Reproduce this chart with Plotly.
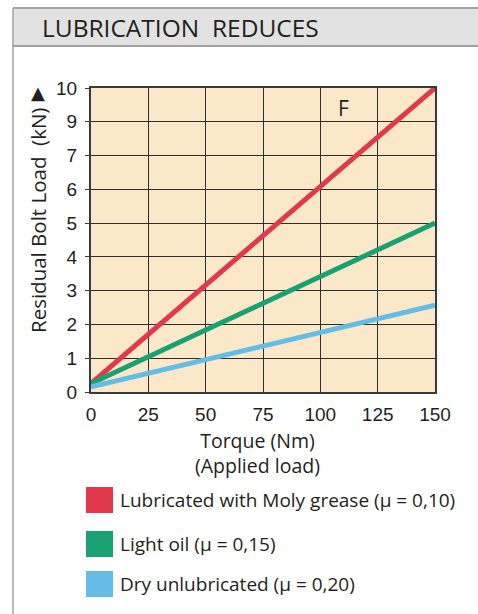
import plotly.graph_objects as go

# Torque (Nm) at the two ends of each line
torque = [0, 150]

# Residual bolt load, in axis units (gridlines are evenly spaced, see tick labels)
series_names = [
    "Lubricated with Moly grease (μ = 0,10)",
    "Light oil (μ = 0,15)",
    "Dry unlubricated (μ = 0,20)",
]
moly_grease = [0.25, 9.0]
light_oil = [0.25, 5.0]
dry = [0.15, 2.57]
series_values = [moly_grease, light_oil, dry]
series_colors = ["#E1384B", "#1AA173", "#63BDE5"]

x_ticks = [0, 25, 50, 75, 100, 125, 150]
y_tick_pos = [0, 1, 2, 3, 4, 5, 6, 7, 8, 9]
y_tick_text = ["0", "1", "2", "3", "4", "5", "6", "7", "9", "10"]

W, H = 478, 614
L, R, T, B = 91, 435, 88, 392  # plot area in pixels
PW, PH = R - L, B - T


def px(x):
    return (x - L) / PW


def py(y):
    return (B - y) / PH


TEXT = "#231F20"
SANS = "Open Sans, Noto Sans, sans-serif"
ARIAL = "Liberation Sans, Arial, sans-serif"

fig = go.Figure()
for name, vals, col in zip(series_names, series_values, series_colors):
    fig.add_trace(go.Scatter(
        x=torque, y=vals, mode="lines", name=name,
        line=dict(color=col, width=5), showlegend=False, cliponaxis=False,
    ))

shapes = [
    # header band
    dict(type="rect", xref="paper", yref="paper",
         x0=px(13), x1=px(480), y0=py(8), y1=py(46),
         fillcolor="#E1E2E1", line=dict(width=0), layer="below"),
    dict(type="line", xref="paper", yref="paper",
         x0=px(13), x1=px(480), y0=py(8), y1=py(8),
         line=dict(color="#A3A3A3", width=2)),
    dict(type="line", xref="paper", yref="paper",
         x0=px(13), x1=px(480), y0=py(46), y1=py(46),
         line=dict(color="#A3A3A3", width=2)),
    dict(type="line", xref="paper", yref="paper",
         x0=px(13), x1=px(13), y0=py(8), y1=py(616),
         line=dict(color="#A3A3A3", width=1.5)),
]

annotations = [
    dict(text="LUBRICATION  REDUCES", xref="paper", yref="paper",
         x=px(40), y=py(28), xanchor="left", yanchor="middle", showarrow=False,
         font=dict(family=SANS, size=24.5, color=TEXT)),
    dict(text="Residual Bolt Load  (kN)", xref="paper", yref="paper",
         x=px(38), y=py(221), xanchor="center", yanchor="middle", showarrow=False,
         textangle=-90, font=dict(family=SANS, size=20.5, color=TEXT)),
    dict(text="▲", xref="paper", yref="paper",
         x=px(38), y=py(92), xanchor="center", yanchor="middle", showarrow=False,
         font=dict(family="DejaVu Sans", size=18, color=TEXT)),
    dict(text="Torque (Nm)<br>(Applied load)", xref="paper", yref="paper",
         x=px(257), y=py(453), xanchor="center", yanchor="middle", showarrow=False,
         align="center", font=dict(family=SANS, size=19.5, color=TEXT)),
    dict(text="F", xref="x", yref="y", x=110, y=8.4,
         xanchor="center", yanchor="middle", showarrow=False,
         font=dict(family=SANS, size=21, color=TEXT)),
]

# legend: colour squares with their labels
legend_rows = [500, 544, 584]
for name, col, cy in zip(series_names, series_colors, legend_rows):
    shapes.append(dict(type="rect", xref="paper", yref="paper",
                       x0=px(86), x1=px(113), y0=py(cy - 13), y1=py(cy + 13),
                       fillcolor=col, line=dict(width=0)))
    annotations.append(dict(text=name, xref="paper", yref="paper",
                            x=px(118), y=py(cy), xanchor="left", yanchor="middle",
                            showarrow=False,
                            font=dict(family=SANS, size=19, color=TEXT)))

fig.update_layout(
    width=W, height=H,
    margin=dict(l=L, r=W - R, t=T, b=H - B),
    paper_bgcolor="white",
    plot_bgcolor="#FBE8C8",
    shapes=shapes,
    annotations=annotations,
    xaxis=dict(
        range=[0, 150], tickvals=x_ticks, showgrid=True,
        gridcolor="#2E2E2E", gridwidth=1,
        showline=True, linecolor="#3A3A3A", linewidth=2, mirror=True,
        ticks="", zeroline=False, ticklabelstandoff=4,
        tickfont=dict(family=ARIAL, size=19, color=TEXT),
    ),
    yaxis=dict(
        range=[0, 9], tickvals=y_tick_pos, ticktext=y_tick_text, showgrid=True,
        gridcolor="#2E2E2E", gridwidth=1,
        showline=True, linecolor="#3A3A3A", linewidth=2, mirror=True,
        ticks="outside", ticklen=4, tickcolor="#3A3A3A", zeroline=False,
        ticklabelstandoff=4,
        tickfont=dict(family=ARIAL, size=19, color=TEXT),
    ),
)

fig.write_html("out.html")
